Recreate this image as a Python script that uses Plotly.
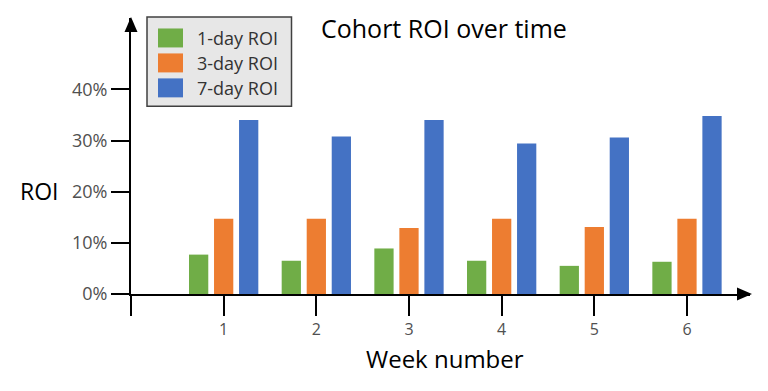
import plotly.graph_objects as go

weeks = [1, 2, 3, 4, 5, 6]
series_names = ["1-day ROI", "3-day ROI", "7-day ROI"]
roi_1day = [7.7, 6.5, 8.9, 6.5, 5.5, 6.3]
roi_3day = [14.7, 14.7, 12.9, 14.7, 13.1, 14.7]
roi_7day = [34.0, 30.8, 34.0, 29.4, 30.6, 34.8]
colors = ["#70AD47", "#ED7D31", "#4472C4"]
y_ticks = [0, 10, 20, 30, 40]
y_tick_text = ["0%", "10%", "20%", "30%", "40%"]
x_ticks = [0, 1, 2, 3, 4, 5, 6]
x_tick_text = ["", "1", "2", "3", "4", "5", "6"]

W, H = 768, 391
OFF = 8  # page body margin
# target screen positions of the plot area
L, R, T, B = 131, 750, 18, 294.5
FONT = "Open Sans"


def px(x):
    return (x - L) / (R - L)


def py(y):
    return (B - y) / (B - T)


fig = go.Figure()
for name, vals, col in zip(series_names, [roi_1day, roi_3day, roi_7day], colors):
    fig.add_trace(go.Bar(x=weeks, y=vals, name=name, marker=dict(color=col, line=dict(width=0)),
                         showlegend=False))

shapes = []
annotations = []

# arrowheads
shapes.append(dict(type="path", xref="paper", yref="paper",
                   path=f"M {px(131)},{py(17)} L {px(124.5)},{py(32)} L {px(137.5)},{py(32)} Z",
                   fillcolor="black", line=dict(width=0)))
shapes.append(dict(type="path", xref="paper", yref="paper",
                   path=f"M {px(752)},{py(294.5)} L {px(737)},{py(288)} L {px(737)},{py(301)} Z",
                   fillcolor="black", line=dict(width=0)))

# legend box
shapes.append(dict(type="rect", xref="paper", yref="paper",
                   x0=px(147), x1=px(291.5), y0=py(106.5), y1=py(17),
                   fillcolor="#E7E7E7", line=dict(color="#404040", width=1.5)))
row_y = [38, 63, 88]
for name, col, ry in zip(series_names, colors, row_y):
    shapes.append(dict(type="rect", xref="paper", yref="paper",
                       x0=px(158), x1=px(183), y0=py(ry + 9.5), y1=py(ry - 9.5),
                       fillcolor=col, line=dict(width=0)))
    annotations.append(dict(text=name, xref="paper", yref="paper", x=px(195), y=py(ry),
                            xanchor="left", yanchor="middle", showarrow=False,
                            font=dict(family=FONT, size=18, color="#333333")))

# title and axis titles
annotations.append(dict(text="Cohort ROI over time", xref="paper", yref="paper",
                        x=px(444), y=py(28), xanchor="center", yanchor="middle", showarrow=False,
                        font=dict(family=FONT, size=25, color="black")))
annotations.append(dict(text="ROI", xref="paper", yref="paper",
                        x=px(39), y=py(191), xanchor="center", yanchor="middle", showarrow=False,
                        font=dict(family=FONT, size=23, color="black")))
annotations.append(dict(text="Week number", xref="paper", yref="paper",
                        x=px(445), y=py(359), xanchor="center", yanchor="middle", showarrow=False,
                        font=dict(family=FONT, size=24, color="black")))

fig.update_layout(
    width=W, height=H,
    margin=dict(l=L - OFF, r=W - R + OFF, t=T - OFF, b=H - B + OFF, pad=0),
    paper_bgcolor="white", plot_bgcolor="white",
    barmode="group", bargap=0.19, bargroupgap=0.23,
    shapes=shapes, annotations=annotations,
    showlegend=False,
    xaxis=dict(range=[0, 6.68], tickvals=x_ticks, ticktext=x_tick_text, showgrid=False,
               zeroline=False, showline=True, linecolor="black", linewidth=2,
               ticks="outside", ticklen=20, tickwidth=2, tickcolor="black",
               tickfont=dict(family=FONT, size=16, color="#505050"), fixedrange=True),
    yaxis=dict(range=[0, (B - T) / 5.125], tickvals=y_ticks, ticktext=y_tick_text, showgrid=False,
               zeroline=False, showline=True, linecolor="black", linewidth=2,
               ticks="outside", ticklen=18, tickwidth=2, tickcolor="black",
               tickfont=dict(family=FONT, size=18, color="#505050"), fixedrange=True),
)

fig.write_html("out.html")
